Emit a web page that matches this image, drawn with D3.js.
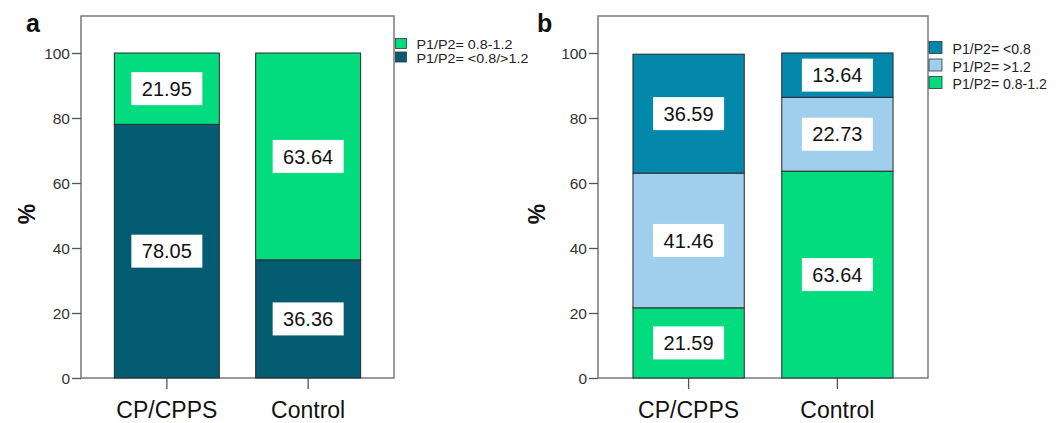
<!DOCTYPE html>
<html>
<head>
<meta charset="utf-8">
<script src="https://cdn.jsdelivr.net/npm/d3@7"></script>
<style>
  body { margin: 0; background: #fff; }
  svg { display: block; font-family: "Liberation Sans", Arial, sans-serif; }
</style>
</head>
<body>
<div id="vis"></div>
<script>
// categories
var groups = ["CP/CPPS", "Control"];

// panel a: series (bottom to top)
var aSeries = ["P1/P2= <0.8/>1.2", "P1/P2= 0.8-1.2"];
var aOutside = [78.05, 36.36];
var aNormal = [21.95, 63.64];

// panel b: series (bottom to top)
var bSeries = ["P1/P2= 0.8-1.2", "P1/P2= >1.2", "P1/P2= <0.8"];
var bNormal = [21.59, 63.64];
var bHigh = [41.46, 22.73];
var bLow = [36.59, 13.64];

var yTicks = [0, 20, 40, 60, 80, 100];

var green = "#02dc7f", darkTeal = "#045c72", blue = "#0387aa", lightBlue = "#9fcfed";

var svg = d3.select("#vis").append("svg")
    .attr("width", 1064)
    .attr("height", 423);

/* one panel: frame, axes, stacked bars, labels, legend */
function drawPanel(p) {
    var g = svg.append("g");

    var y = d3.scaleLinear().domain([0, 100]).range([378, 53]);

    var x = d3.scaleBand()
        .domain(groups)
        .range([p.left, p.right])
        .paddingInner(p.padInner)
        .paddingOuter(p.padOuter);

    // frame
    g.append("rect")
        .attr("x", p.left)
        .attr("y", 16)
        .attr("width", p.right - p.left)
        .attr("height", 378 - 16)
        .attr("fill", "none")
        .attr("stroke", "#7a7a7a")
        .attr("stroke-width", 1.5);

    // y axis
    var yAxis = g.append("g")
        .attr("transform", "translate(" + p.left + ",0)")
        .call(d3.axisLeft(y).tickValues(yTicks).tickSize(9).tickPadding(2));
    yAxis.select(".domain").remove();
    yAxis.selectAll("line").attr("stroke", "#555").attr("stroke-width", 1.3);
    yAxis.selectAll("text")
        .attr("fill", "#333")
        .style("font-size", "15.5px")
        .style("font-family", "Liberation Sans, Arial, sans-serif")
        .attr("dy", "0.36em");

    // x axis
    var xAxis = g.append("g")
        .attr("transform", "translate(0,378)")
        .call(d3.axisBottom(x).tickSize(11).tickPadding(13));
    xAxis.select(".domain").remove();
    xAxis.selectAll("line").attr("stroke", "#555").attr("stroke-width", 1.3);
    xAxis.selectAll("text")
        .attr("fill", "#111")
        .style("font-size", "23px")
        .style("font-family", "Liberation Sans, Arial, sans-serif");

    // stacked bars
    var rows = groups.map(function(name, i) {
        var row = {group: name};
        p.series.forEach(function(s, k) { row[s] = p.values[k][i]; });
        return row;
    });
    var stacked = d3.stack().keys(p.series)(rows);

    var layers = g.selectAll(".layer")
        .data(stacked)
        .enter()
        .append("g")
        .attr("class", "layer")
        .attr("fill", function(d, k) { return p.colors[k]; });

    layers.selectAll("rect")
        .data(function(d) { return d; })
        .enter()
        .append("rect")
        .attr("x", function(d) { return x(d.data.group); })
        .attr("y", function(d) { return y(d[1]); })
        .attr("width", x.bandwidth())
        .attr("height", function(d) { return y(d[0]) - y(d[1]); })
        .attr("stroke", "#2a2a2a")
        .attr("stroke-width", 1);

    // value boxes
    stacked.forEach(function(layer) {
        layer.forEach(function(d) {
            var cx = x(d.data.group) + x.bandwidth() / 2;
            var cy = y((d[0] + d[1]) / 2);
            g.append("rect")
                .attr("x", cx - 35.5)
                .attr("y", cy - 16.5)
                .attr("width", 71)
                .attr("height", 33)
                .attr("fill", "#fff");
            g.append("text")
                .attr("x", cx)
                .attr("y", cy)
                .attr("dy", "0.36em")
                .attr("text-anchor", "middle")
                .style("font-size", "20px")
                .attr("fill", "#111")
                .text((d[1] - d[0]).toFixed(2));
        });
    });

    // y label
    g.append("text")
        .attr("transform", "translate(" + p.yLabelX + ",214) rotate(-90)")
        .attr("text-anchor", "middle")
        .style("font-size", "23px")
        .style("font-weight", "bold")
        .attr("fill", "#111")
        .text("%");

    // panel letter
    g.append("text")
        .attr("x", p.letterX)
        .attr("y", 32)
        .style("font-size", "25px")
        .style("font-weight", "bold")
        .attr("fill", "#111")
        .text(p.letter);

    // legend (top to bottom = reversed stack order)
    var legendItems = p.series.map(function(s, k) { return {name: s, color: p.colors[k]}; }).reverse();
    var legend = g.selectAll(".legend")
        .data(legendItems)
        .enter()
        .append("g")
        .attr("class", "legend")
        .attr("transform", function(d, i) { return "translate(" + p.legendX + "," + (p.legendY + i * p.legendStep) + ")"; });

    legend.append("rect")
        .attr("width", p.swatchW)
        .attr("height", p.swatchH)
        .attr("fill", function(d) { return d.color; })
        .attr("stroke", "#333")
        .attr("stroke-width", 0.8);

    legend.append("text")
        .attr("transform", "translate(" + p.textOffset + "," + (p.swatchH + 0.5) + ") scale(" + p.textStretch + ",1)")
        .style("font-size", p.legendFont + "px")
        .attr("fill", "#222")
        .text(function(d) { return d.name; });
}

drawPanel({
    letter: "a", letterX: 26,
    left: 81, right: 394,
    padInner: 0.257, padOuter: 0.236,
    series: aSeries,
    values: [aOutside, aNormal],
    colors: [darkTeal, green],
    yLabelX: 35,
    legendX: 395.5, legendY: 38.5, legendStep: 13.5, swatchW: 11, swatchH: 10,
    textOffset: 21, legendFont: 12.8, textStretch: 1.12
});

drawPanel({
    letter: "b", letterX: 537,
    left: 598, right: 928,
    padInner: 0.252, padOuter: 0.235,
    series: bSeries,
    values: [bNormal, bHigh, bLow],
    colors: [green, lightBlue, blue],
    yLabelX: 545,
    legendX: 929, legendY: 41.5, legendStep: 17.5, swatchW: 13, swatchH: 12,
    textOffset: 23.5, legendFont: 15, textStretch: 0.94
});
</script>
</body>
</html>
